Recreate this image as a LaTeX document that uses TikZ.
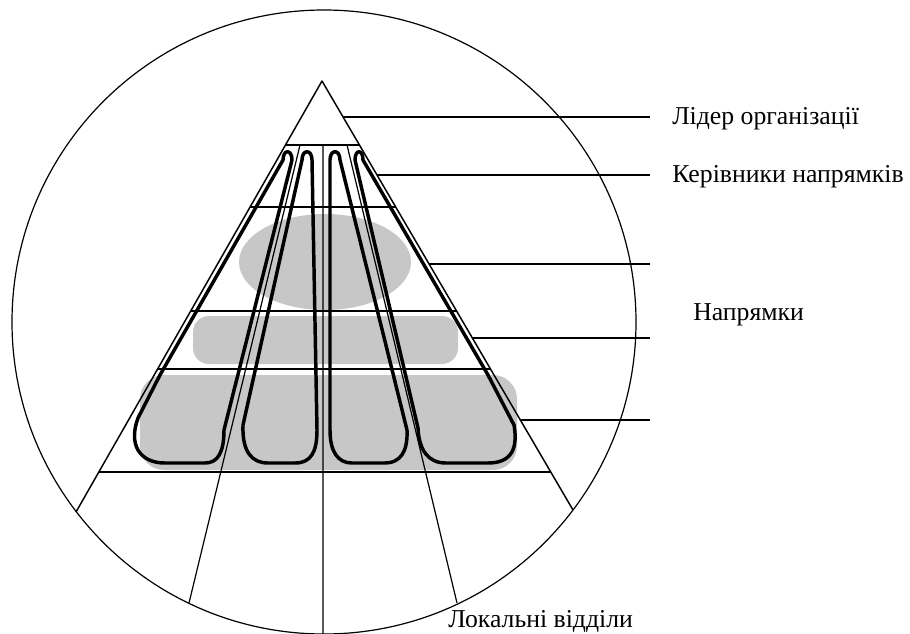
\documentclass[tikz,border=0pt]{standalone}
\usepackage{fontspec}
\setmainfont{Liberation Serif}
\usetikzlibrary{positioning}

\begin{document}
\begin{tikzpicture}[x=0.75pt, y=-0.75pt,
  font=\fontsize{19.3}{23}\selectfont,
  rim/.style={draw, line width=0.9pt},
  side/.style={draw, line width=1.1pt, line join=round},
  lead/.style={draw, line width=1.1pt},
  hairpin/.style={draw, line width=2.6pt, line join=round},
  stipple/.style={fill=black!22},
  lbl/.style={anchor=base west, inner sep=0pt}]
\useasboundingbox (0,0) rectangle (910,633);
% shaded bands
\fill[stipple] (325,262) ellipse[x radius=86, y radius=48];
\fill[stipple, rounded corners=12pt] (193,316) rectangle (458,364);
\fill[stipple, rounded corners=18pt] (140,375) rectangle (517,470);
% circle and pyramid
\draw[rim] (324,322) circle[radius=312];
\coordinate (apex) at (322,81);
\coordinate (lfoot) at (76,512);
\coordinate (rfoot) at (573,510);
\draw[side] (lfoot) -- (apex) -- (rfoot);
\foreach \y/\xa/\xb in {145/285.5/359.4, 207/250/395.7, 311/190.7/456.6,
    369/157.5/490.5, 472/98.7/550.7}
  \draw[rim] (\xa,\y) -- (\xb,\y);
\coordinate (s1t) at (300,145); \coordinate (s1b) at (189,603);
\coordinate (s2t) at (323,145); \coordinate (s2b) at (323,634);
\coordinate (s3t) at (347,145); \coordinate (s3b) at (457,603);
\draw[rim] (s1t) -- (s1b) (s2t) -- (s2b) (s3t) -- (s3b);
% directions
\draw[hairpin] (283,160) -- (160,375) -- (138,418)
  .. controls (128,445) and (140,463) .. (165,463) -- (205,463)
  .. controls (218,463) and (224,452) .. (224,430) -- (292,160)
  .. controls (292,149) and (283,149) .. cycle;
\draw[hairpin] (302,160) -- (243,425)
  .. controls (242,452) and (252,463) .. (268,463) -- (295,463)
  .. controls (311,463) and (317,452) .. (317,430) -- (312,160)
  .. controls (312,149) and (302,149) .. cycle;
\draw[hairpin] (330,160) -- (330,430)
  .. controls (330,452) and (338,463) .. (352,463) -- (385,463)
  .. controls (400,463) and (408,452) .. (407,430) -- (340,160)
  .. controls (340,149) and (330,149) .. cycle;
\draw[hairpin] (355,160) -- (418,428)
  .. controls (419,450) and (428,463) .. (446,463) -- (488,463)
  .. controls (512,463) and (518,448) .. (514,425) -- (488,375) -- (363,160)
  .. controls (363,149) and (355,149) .. cycle;
% pointers
\foreach \y/\x [count=\i] in {117/343, 175/377, 264/429, 338/472, 420/520}
  \draw[lead] (\x,\y) coordinate (p\i) -- (650,\y) coordinate (q\i);
\node[lbl] (leader) at (672,124.5) {Лідер організації};
\node[lbl] (heads) at (672,182) {Керівники напрямків};
\node[lbl] (dirs) at (693,320) {Напрямки};
\node[lbl] (local) at (448,627) {Локальні відділи};
\end{tikzpicture}
\end{document}
